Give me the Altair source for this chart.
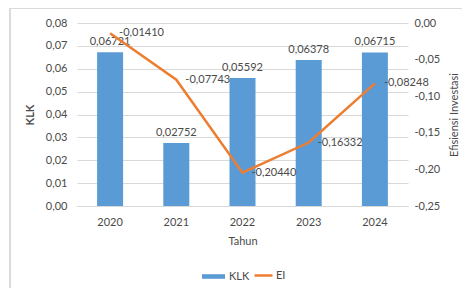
import altair as alt
import pandas as pd

years = ["2020", "2021", "2022", "2023", "2024"]
klk = [0.06721, 0.02752, 0.05592, 0.06378, 0.06715]
ei = [-0.01410, -0.07743, -0.20440, -0.16332, -0.08248]
klk_ticks = [0, 0.01, 0.02, 0.03, 0.04, 0.05, 0.06, 0.07, 0.08]
ei_ticks = [0, -0.05, -0.1, -0.15, -0.2, -0.25]

def fmt(v):
    return f"{v:.5f}".replace(".", ",")

df = pd.DataFrame({
    "Tahun": years,
    "KLK": klk,
    "EI": ei,
    "klk_lbl": [fmt(v) for v in klk],
    "ei_lbl": [fmt(v) for v in ei],
    "s1": ["KLK"] * 5,
    "s2": ["EI"] * 5,
})

FONT = "Lato"
BLUE = "#5B9BD5"
ORANGE = "#ED7D31"
TXT = "#4a4a4a"

x = alt.X("Tahun:N", title="Tahun",
          scale=alt.Scale(paddingInner=0, paddingOuter=0),
          axis=alt.Axis(labelAngle=0, ticks=False, domain=True, domainColor="#D9D9D9",
                        labelPadding=10, titlePadding=8, labelFontSize=11,
                        titleFontSize=11, titleFontWeight="normal",
                        labelColor=TXT, titleColor=TXT))

yl_scale = alt.Scale(domain=[0, 0.08], nice=False)
yr_scale = alt.Scale(domain=[-0.25, 0], nice=False)

yl_axis = alt.Axis(values=klk_ticks,
                   labelExpr="replace(format(datum.value, '.2f'), '.', ',')",
                   labelOverlap=False,
                   ticks=False, domain=False, grid=True, gridColor="#D9D9D9",
                   labelPadding=10, titlePadding=10, labelFontSize=11,
                   titleFontSize=11, titleFontWeight="bold",
                   labelColor=TXT, titleColor=TXT)

yr_axis = alt.Axis(orient="right", values=ei_ticks,
                   labelExpr="replace(replace(format(datum.value, '.2f'), '.', ','), '\u2212', '-')",
                   labelOverlap=False,
                   ticks=False, domain=False, grid=False,
                   labelPadding=6, titlePadding=9, titleAngle=-90, titleBaseline="top",
                   labelFontSize=11, titleFontSize=11, titleFontWeight="normal",
                   labelColor=TXT, titleColor=TXT)

bars = alt.Chart(df).mark_bar(size=26, color=BLUE).encode(
    x=x,
    y=alt.Y("KLK:Q", title="KLK", scale=yl_scale, axis=yl_axis),
    fill=alt.Fill("s1:N", title=None,
                  scale=alt.Scale(domain=["KLK"], range=[BLUE]),
                  legend=alt.Legend(orient="none", legendX=125, legendY=242,
                                    symbolType="M-1,-0.2H1V0.2H-1Z", symbolSize=529,
                                    symbolStrokeWidth=0, labelFontSize=11, labelColor=TXT,
                                    labelOffset=4)),
)

bar_text = alt.Chart(df).mark_text(baseline="bottom", dy=-5, fontSize=11, font=FONT, color=TXT).encode(
    x="Tahun:N",
    y=alt.Y("KLK:Q", title="KLK", scale=yl_scale, axis=yl_axis),
    text="klk_lbl:N",
)

left = alt.layer(bars, bar_text)

line = alt.Chart(df).mark_line(color=ORANGE, strokeWidth=2.5).encode(
    x="Tahun:N",
    y=alt.Y("EI:Q", title="Efisiensi Investasi", scale=yr_scale, axis=yr_axis),
    stroke=alt.Stroke("s2:N", title=None,
                      scale=alt.Scale(domain=["EI"], range=[ORANGE]),
                      legend=alt.Legend(orient="none", legendX=176, legendY=242,
                                        symbolType="stroke", symbolSize=324,
                                        symbolStrokeWidth=2.5, labelFontSize=11,
                                        labelColor=TXT, labelOffset=2)),
)

line_text = alt.Chart(df).mark_text(align="left", baseline="middle", dx=9, fontSize=11, font=FONT, color=TXT).encode(
    x="Tahun:N",
    y=alt.Y("EI:Q", title="Efisiensi Investasi", scale=yr_scale, axis=yr_axis),
    text="ei_lbl:N",
)

right = alt.layer(line, line_text)

border_left = alt.Chart(df).mark_rule(color="#D9D9D9", strokeWidth=1).encode(
    x=alt.value(-67), y=alt.value(-15), y2=alt.value(280))
border_top = alt.Chart(df).mark_rule(color="#D9D9D9", strokeWidth=1).encode(
    x=alt.value(-67), x2=alt.value(400), y=alt.value(-15))

main = alt.layer(left, right).resolve_scale(
    y="independent", fill="independent", stroke="independent"
)

chart = alt.layer(main, border_left, border_top).properties(
    width=331, height=183,
    autosize=alt.AutoSizeParams(type="none"),
    padding={"left": 69, "top": 15, "right": 54, "bottom": 82},
).configure(font=FONT).configure_view(stroke=None)

chart.save("out.html", embed_options={"renderer": "svg", "actions": False})
